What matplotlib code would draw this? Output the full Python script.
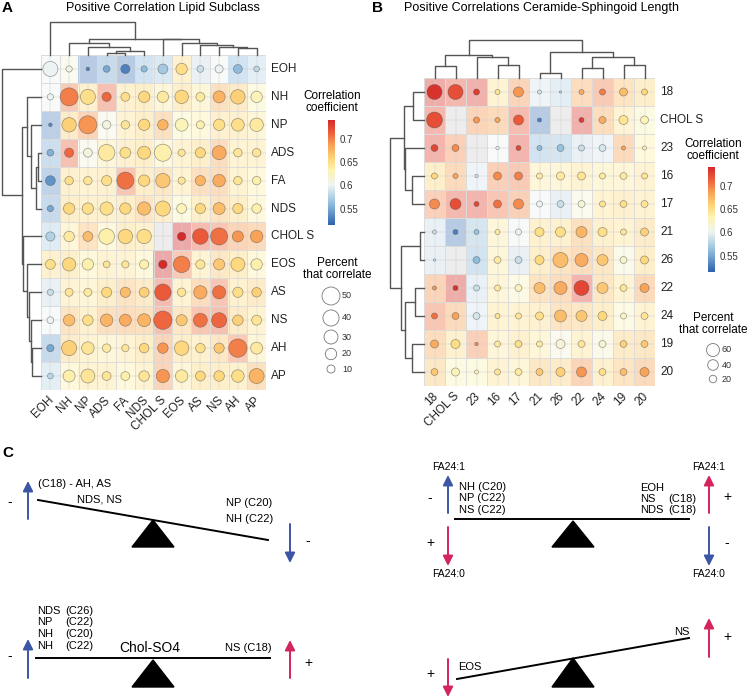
import matplotlib.pyplot as plt
import matplotlib.colors as mcolors
from matplotlib.patches import Polygon, FancyArrowPatch
import numpy as np

plt.rcParams['font.family'] = ['Liberation Sans', 'DejaVu Sans']

W, H = 750, 699
nan = np.nan

# ---- panel A data ----
a_labels = ['EOH', 'NH', 'NP', 'ADS', 'FA', 'NDS', 'CHOL S', 'EOS', 'AS', 'NS', 'AH', 'AP']
a_corr = np.array([
    [0.60, 0.61, 0.53, 0.55, 0.53, 0.56, 0.57, 0.65, 0.585, 0.60, 0.56, 0.58],
    [0.60, 0.70, 0.65, 0.71, 0.65, 0.655, 0.64, 0.655, 0.64, 0.675, 0.66, 0.63],
    [0.535, 0.66, 0.69, 0.61, 0.645, 0.655, 0.675, 0.63, 0.635, 0.65, 0.65, 0.64],
    [0.555, 0.71, 0.61, 0.64, 0.65, 0.655, 0.635, 0.645, 0.655, 0.68, 0.645, 0.645],
    [0.54, 0.65, 0.645, 0.65, 0.705, 0.655, 0.665, 0.645, 0.675, 0.68, 0.645, 0.635],
    [0.55, 0.655, 0.65, 0.65, 0.655, 0.67, 0.655, 0.63, 0.655, 0.67, 0.655, 0.635],
    [0.575, 0.64, 0.67, 0.635, 0.655, 0.65, nan, 0.74, 0.715, 0.705, 0.69, 0.685],
    [0.65, 0.655, 0.635, 0.645, 0.645, 0.635, 0.74, 0.70, 0.645, 0.665, 0.655, 0.635],
    [0.585, 0.645, 0.64, 0.655, 0.67, 0.66, 0.715, 0.645, 0.68, 0.705, 0.65, 0.66],
    [0.60, 0.67, 0.65, 0.675, 0.68, 0.675, 0.71, 0.665, 0.705, 0.71, 0.66, 0.645],
    [0.55, 0.66, 0.645, 0.64, 0.645, 0.655, 0.69, 0.655, 0.65, 0.665, 0.70, 0.64],
    [0.58, 0.635, 0.645, 0.645, 0.635, 0.645, 0.69, 0.64, 0.655, 0.655, 0.65, 0.675],
])
a_pct = np.array([
    [35, 6, 2, 7, 13, 6, 15, 20, 7, 10, 12, 5],
    [6, 50, 35, 13, 12, 20, 20, 28, 12, 22, 32, 20],
    [2, 32, 50, 11, 11, 20, 17, 25, 10, 20, 25, 28],
    [7, 13, 12, 42, 18, 26, 45, 8, 16, 30, 11, 11],
    [15, 11, 11, 16, 45, 20, 32, 8, 16, 24, 11, 11],
    [6, 20, 20, 27, 20, 27, 35, 15, 16, 22, 16, 14],
    [13, 17, 15, 38, 32, 32, 0, 11, 38, 45, 19, 24],
    [15, 27, 20, 7, 8, 13, 11, 42, 13, 19, 30, 20],
    [6, 10, 10, 16, 16, 15, 42, 11, 27, 27, 16, 14],
    [7, 20, 17, 24, 22, 26, 52, 19, 30, 35, 17, 15],
    [8, 35, 24, 11, 8, 14, 17, 32, 14, 16, 52, 22],
    [5, 22, 30, 12, 12, 17, 27, 24, 15, 17, 24, 35],
])
# dendrogram merges: (node a, node b, height); leaves are 0..n-1
# rows and columns share the same clustering (symmetric matrix)
a_merges = [(3, 4, 0.07), (12, 5, 0.13), (2, 13, 0.25), (1, 14, 0.37),
            (10, 11, 0.22), (9, 16, 0.25), (8, 17, 0.3), (7, 18, 0.37),
            (6, 19, 0.47), (15, 20, 0.5), (0, 21, 1.0)]

# ---- panel B data ----
b_labels = ['18', 'CHOL S', '23', '16', '17', '21', '26', '22', '24', '19', '20']
b_corr = np.array([
    [0.735, 0.72, 0.73, 0.645, 0.69, 0.59, 0.58, 0.68, 0.70, 0.67, 0.655],
    [0.72, nan, 0.69, 0.685, 0.715, 0.53, nan, 0.73, 0.68, 0.645, 0.63],
    [0.725, 0.695, nan, 0.60, 0.725, 0.56, 0.565, 0.585, 0.59, 0.685, 0.635],
    [0.655, 0.685, 0.59, 0.695, 0.70, 0.64, 0.64, 0.645, 0.64, 0.64, 0.645],
    [0.695, 0.72, 0.725, 0.705, 0.695, 0.60, 0.585, 0.615, 0.645, 0.65, 0.645],
    [0.585, 0.53, 0.565, 0.64, 0.60, 0.65, 0.65, 0.675, 0.65, 0.645, 0.66],
    [0.585, nan, 0.56, 0.64, 0.585, 0.655, 0.67, 0.68, 0.665, 0.62, 0.655],
    [0.69, 0.735, 0.585, 0.64, 0.625, 0.67, 0.68, 0.725, 0.665, 0.645, 0.685],
    [0.705, 0.685, 0.59, 0.645, 0.645, 0.65, 0.67, 0.665, 0.655, 0.625, 0.645],
    [0.68, 0.65, 0.695, 0.64, 0.65, 0.64, 0.615, 0.645, 0.62, 0.66, 0.665],
    [0.665, 0.63, 0.63, 0.645, 0.64, 0.665, 0.66, 0.69, 0.65, 0.67, 0.685],
])
b_pct = np.array([
    [80, 80, 13, 9, 36, 6, 2, 9, 13, 23, 13],
    [90, 0, 13, 9, 36, 6, 0, 9, 17, 29, 23],
    [17, 17, 0, 4, 9, 9, 17, 13, 17, 6, 6],
    [13, 9, 4, 23, 23, 13, 23, 23, 13, 17, 13],
    [36, 43, 9, 23, 36, 13, 17, 17, 13, 17, 17],
    [6, 9, 9, 9, 13, 29, 36, 43, 29, 13, 23],
    [2, 0, 17, 17, 17, 29, 80, 60, 43, 17, 23],
    [6, 9, 13, 13, 17, 43, 60, 80, 43, 17, 29],
    [13, 17, 17, 9, 13, 23, 51, 43, 29, 13, 17],
    [23, 29, 4, 13, 17, 13, 29, 17, 17, 17, 17],
    [17, 23, 6, 13, 17, 17, 29, 36, 17, 17, 29],
])
b_merges = [(0, 1, 0.32), (3, 4, 0.34), (2, 12, 0.55), (11, 13, 0.6),
            (5, 6, 0.13), (7, 8, 0.26), (9, 10, 0.34), (16, 17, 0.55),
            (15, 18, 0.68), (14, 19, 1.0)]

cmap = mcolors.LinearSegmentedColormap.from_list('corr', [
    (0.0, '#2c62ad'), (0.2, '#8fbcdc'), (0.38, '#eef4f2'), (0.52, '#fdf3b3'),
    (0.62, '#fdd97f'), (0.76, '#f8a257'), (0.88, '#ec5e3c'), (1.0, '#d42a2a')])
norm = mcolors.Normalize(0.515, 0.74)

fig = plt.figure(figsize=(W / 100, H / 100), dpi=100)


def px_axes(x0, y0, x1, y1, **kw):
    return fig.add_axes([x0 / W, 1 - y1 / H, (x1 - x0) / W, (y1 - y0) / H], **kw)


def draw_heatmap(ax, corr, pct, scale, labels, lab_dx, xlab_dy):
    n = corr.shape[0]
    bg = 0.4 * cmap(norm(corr))[..., :3] + 0.6
    bg[np.isnan(corr)] = 0.93
    ax.imshow(bg, extent=(0, n, n, 0), aspect='auto', interpolation='nearest')
    for k in range(n + 1):
        ax.axhline(k, color='#dcdcdc', lw=0.7, zorder=2)
        ax.axvline(k, color='#dcdcdc', lw=0.7, zorder=2)
    for k in range(n):
        ax.axhline(k + 0.5, color='#cfcfcf', lw=0.35, zorder=2)
        ax.axvline(k + 0.5, color='#cfcfcf', lw=0.35, zorder=2)
    yy, xx = np.mgrid[0:n, 0:n]
    m = ~np.isnan(corr)
    ax.scatter(xx[m] + 0.5, yy[m] + 0.5, s=pct[m] * scale, c=corr[m], cmap=cmap,
               norm=norm, edgecolors=(0.3, 0.3, 0.3, 0.55), linewidths=0.5, zorder=3)
    ax.set_xlim(0, n)
    ax.set_ylim(n, 0)
    ax.axis('off')
    for i, lab in enumerate(labels):
        ax.text(n + lab_dx, i + 0.5, lab, va='center', ha='left', fontsize=8.5,
                color='#222222')
        ax.text(i + 0.6, n + xlab_dy, lab, rotation=45, ha='right', va='center',
                rotation_mode='anchor', fontsize=8.5, color='#222222', clip_on=False)


def draw_dendro(ax, merges, n, orient):
    pos = list(np.arange(n) + 0.5)
    hts = [0.0] * n
    for a, b, h in merges:
        xa, xb = pos[a], pos[b]
        if orient == 'top':
            ax.plot([xa, xa, xb, xb], [hts[a], h, h, hts[b]], color='#555555',
                    lw=1.0, clip_on=False)
        else:
            ax.plot([hts[a], h, h, hts[b]], [xa, xa, xb, xb], color='#555555',
                    lw=1.0, clip_on=False)
        pos.append((xa + xb) / 2)
        hts.append(h)
    if orient == 'top':
        ax.set_xlim(0, n)
        ax.set_ylim(0, 1)
    else:
        ax.set_xlim(1, 0)
        ax.set_ylim(n, 0)
    ax.axis('off')


# panel A heatmap
axA = px_axes(41, 55, 266, 390)
draw_heatmap(axA, a_corr, a_pct, 3.36, a_labels, 0.25, 0.3)
draw_dendro(px_axes(41, 22, 266, 55), a_merges, 12, 'top')
draw_dendro(px_axes(2, 55, 41, 390), a_merges, 12, 'left')

# panel B heatmap
axB = px_axes(424, 78, 655, 386)
draw_heatmap(axB, b_corr, b_pct, 1.46, b_labels, 0.25, 0.3)
draw_dendro(px_axes(424, 40, 655, 78), b_merges, 11, 'top')
draw_dendro(px_axes(390, 78, 424, 386), b_merges, 11, 'left')

# colorbars
for (x0, y0, x1, y1) in [(328, 120, 335, 225), (708, 167, 715, 272)]:
    cax = px_axes(x0, y0, x1, y1)
    cb = fig.colorbar(plt.cm.ScalarMappable(norm=norm, cmap=cmap), cax=cax,
                      ticks=[0.55, 0.6, 0.65, 0.7])
    cb.outline.set_visible(False)
    cb.ax.tick_params(length=0, labelsize=7, colors='#333333', pad=3)
    cb.ax.set_yticklabels(['0.55', '0.6', '0.65', '0.7'])

# overlay axes in pixel coordinates
ax0 = px_axes(0, 0, W, H)
ax0.set_xlim(0, W)
ax0.set_ylim(H, 0)
ax0.axis('off')
ax0.patch.set_alpha(0)

ax0.text(2, 8, 'A', fontsize=11, fontweight='bold', va='center')
ax0.text(163, 8, 'Positive Correlation Lipid Subclass', fontsize=9, ha='center', va='center')
ax0.text(372, 8, 'B', fontsize=11, fontweight='bold', va='center')
ax0.text(541, 8, 'Positive Correlations Ceramide-Sphingoid Length', fontsize=9,
         ha='center', va='center')
ax0.text(2, 453, 'C', fontsize=11, fontweight='bold', va='center')

ax0.text(332, 102, 'Correlation\ncoefficient', fontsize=8.5, ha='center', va='center',
         linespacing=1.1)
ax0.text(713, 150, 'Correlation\ncoefficient', fontsize=8.5, ha='center', va='center',
         linespacing=1.1)
ax0.text(337, 269, 'Percent\nthat correlate', fontsize=8.5, ha='center', va='center',
         linespacing=1.1)
ax0.text(713, 324, 'Percent\nthat correlate', fontsize=8.5, ha='center', va='center',
         linespacing=1.1)

a_leg_pct = [50, 40, 30, 20, 10]
a_leg_y = [296, 318, 337, 354, 369]
b_leg_pct = [60, 40, 20]
b_leg_y = [350, 365, 379]
ax0.scatter([331] * 5, a_leg_y, s=np.array(a_leg_pct) * 3.36, facecolors='white',
            edgecolors='#777777', linewidths=0.6)
for p, y in zip(a_leg_pct, a_leg_y):
    ax0.text(342, y, str(p), fontsize=6.5, va='center', color='#333333')
ax0.scatter([713] * 3, b_leg_y, s=np.array(b_leg_pct) * 1.46, facecolors='white',
            edgecolors='#777777', linewidths=0.6)
for p, y in zip(b_leg_pct, b_leg_y):
    ax0.text(722, y, str(p), fontsize=6.5, va='center', color='#333333')

# ---- panel C: seesaw diagrams ----
BLUE = '#3c55a5'
RED = '#d4245c'


def arrow(x, y0, y1, color):
    ax0.add_patch(FancyArrowPatch((x, y0), (x, y1),
                                  arrowstyle='-|>,head_length=0.6,head_width=0.3',
                                  mutation_scale=10, color=color, lw=1.4,
                                  shrinkA=0, shrinkB=0))


def fulcrum(xc, ytop, ybase):
    ax0.add_patch(Polygon([(xc - 21, ybase), (xc + 21, ybase), (xc, ytop)],
                          closed=True, color='black'))


tfs = 8
# top-left
ax0.plot([38, 268], [500, 540], color='black', lw=1.4)
fulcrum(153, 520, 547)
arrow(28, 519, 481, BLUE)
ax0.text(10, 502, '-', fontsize=10, ha='center', va='center')
ax0.text(38, 484, '(C18) - AH, AS', fontsize=tfs, va='center')
ax0.text(77, 499, 'NDS, NS', fontsize=tfs, va='center')
ax0.text(226, 503, 'NP (C20)', fontsize=tfs, va='center')
ax0.text(226, 519, 'NH (C22)', fontsize=tfs, va='center')
arrow(290, 524, 563, BLUE)
ax0.text(308, 541, '-', fontsize=10, ha='center', va='center')

# bottom-left
ax0.plot([36, 270], [658, 658], color='black', lw=1.4)
fulcrum(153, 660, 687)
arrow(28, 678, 639, BLUE)
ax0.text(10, 656, '-', fontsize=10, ha='center', va='center')
for y, a, b in [(611, 'NDS', '(C26)'), (622, 'NP', '(C22)'), (634, 'NH', '(C20)'),
                (646, 'NH', '(C22)')]:
    ax0.text(37, y, a, fontsize=tfs, va='center')
    ax0.text(65, y, b, fontsize=tfs, va='center')
ax0.text(150, 648, 'Chol-SO4', fontsize=10, ha='center', va='center')
ax0.text(225, 648, 'NS (C18)', fontsize=tfs, va='center')
arrow(290, 678, 640, RED)
ax0.text(308, 663, '+', fontsize=10, ha='center', va='center')

# top-right
ax0.plot([455, 689], [519, 519], color='black', lw=1.4)
fulcrum(573, 521, 547)
arrow(448, 513, 475, BLUE)
arrow(448, 527, 566, RED)
arrow(709, 513, 475, RED)
arrow(709, 527, 566, BLUE)
for x in (449, 709):
    ax0.text(x, 467, 'FA24:1', fontsize=7.5, ha='center', va='center')
    ax0.text(x, 574, 'FA24:0', fontsize=7.5, ha='center', va='center')
ax0.text(430, 498, '-', fontsize=10, ha='center', va='center')
ax0.text(430, 543, '+', fontsize=10, ha='center', va='center')
ax0.text(727, 497, '+', fontsize=10, ha='center', va='center')
ax0.text(727, 543, '-', fontsize=10, ha='center', va='center')
for y, t in [(487, 'NH (C20)'), (498, 'NP (C22)'), (510, 'NS (C22)')]:
    ax0.text(459, y, t, fontsize=tfs, va='center')
for y, a, b in [(488, 'EOH', ''), (499, 'NS', '(C18)'), (510, 'NDS', '(C18)')]:
    ax0.text(640, y, a, fontsize=tfs, va='center')
    ax0.text(668, y, b, fontsize=tfs, va='center')

# bottom-right
ax0.plot([457, 689], [679, 638], color='black', lw=1.4)
fulcrum(573, 658, 687)
ax0.text(682, 632, 'NS', fontsize=tfs, ha='center', va='center')
ax0.text(458, 667, 'EOS', fontsize=tfs, va='center')
arrow(448, 659, 697, RED)
ax0.text(430, 674, '+', fontsize=10, ha='center', va='center')
arrow(709, 657, 618, RED)
ax0.text(727, 637, '+', fontsize=10, ha='center', va='center')

fig.savefig('out.png', dpi=100)
